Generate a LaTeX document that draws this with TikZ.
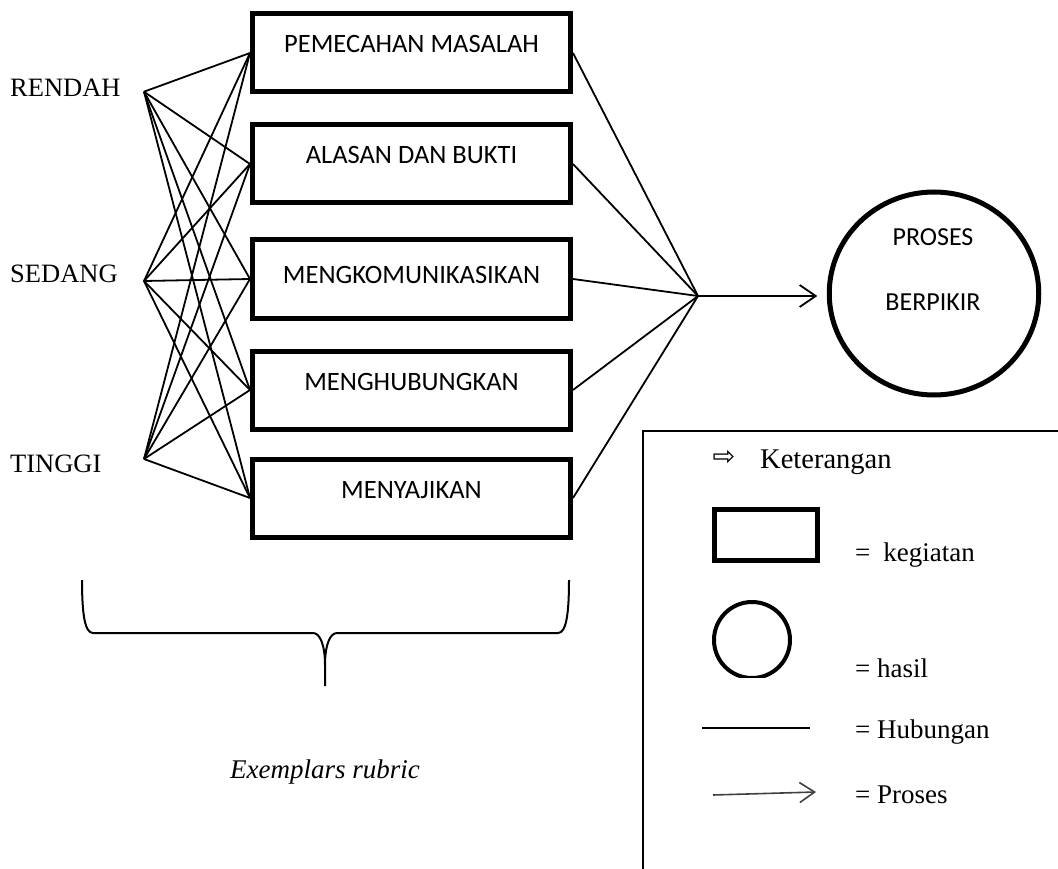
\documentclass[tikz,border=0pt]{standalone}
\usepackage{fontspec}
\setmainfont{Liberation Serif}
\newfontfamily\calib{Carlito}
\newfontfamily\dejavu{DejaVu Sans}
\usetikzlibrary{shapes.geometric,arrows.meta}
\begin{document}
\begin{tikzpicture}[x=1pt,y=-1pt,
  box/.style={draw, line width=5pt, minimum width=318pt, minimum height=78pt, inner sep=0pt},
  boxtext/.style={font=\calib\fontsize{26.5}{30}\selectfont, inner sep=0pt, anchor=base},
  level/.style={font=\fontsize{26.5}{30}\selectfont, anchor=base west, inner sep=0pt},
  link/.style={line width=1.8pt},
  legtext/.style={font=\fontsize{27}{30}\selectfont, anchor=base west, inner sep=0pt}]
\useasboundingbox (0,0) rectangle (1058,869);

% level labels and their junction points
\node[level] (rendah) at (10,97) {RENDAH};
\node[level] (sedang) at (10,283) {SEDANG};
\node[level] (tinggi) at (10,472) {TINGGI};
\coordinate (rL) at (144,91.7);
\coordinate (rS) at (144,281);
\coordinate (rT) at (144,459);

% activity boxes
\node[box] (b1) at (411.5,53) {};
\node[box] (b2) at (411.5,164) {};
\node[box] (b3) at (411.5,279) {};
\node[box] (b4) at (411.5,390) {};
\node[box] (b5) at (411.5,498) {};
\node[boxtext] (t1) at (411.5,53) {PEMECAHAN MASALAH};
\node[boxtext] (t2) at (411.5,163.5) {ALASAN DAN BUKTI};
\node[boxtext] (t3) at (411.5,283.5) {MENGKOMUNIKASIKAN};
\node[boxtext] (t4) at (411.5,390) {MENGHUBUNGKAN};
\node[boxtext] (t5) at (411.5,498.5) {MENYAJIKAN};

% left connectors
\foreach \l in {rL,rS,rT}
  \foreach \b in {b1,b2,b3,b4,b5}
    \draw[link] (\l) -- (\b.west);

% right connectors
\coordinate (conv) at (698,296);
\foreach \b in {b1,b2,b3,b4,b5}
  \draw[link] (\b.east) -- (conv);

% result
\node[ellipse, draw, line width=5pt, minimum width=209.5pt, minimum height=203pt, inner sep=0pt] (circ) at (934,293.5) {};
\node[boxtext, font=\calib\fontsize{26}{30}\selectfont] (c1) at (933,246) {PROSES};
\node[boxtext, font=\calib\fontsize{26}{30}\selectfont] (c2) at (933,310) {BERPIKIR};
\draw[link, -{Straight Barb[length=16pt,width=22pt]}, shorten >=9.5pt] (conv) -- (conv -| circ.west);

% brace
\draw[line width=2pt, line join=round]
  (82,580) .. controls (82,615) and (85,633) .. (93,633) -- (313,633)
  .. controls (320,633) and (325,645) .. (325,665) -- (325,686);
\draw[line width=2pt, line join=round]
  (569,580) .. controls (569,615) and (566,633) .. (558,633) -- (337,633)
  .. controls (330,633) and (325,645) .. (325,665);
\node[font=\itshape\fontsize{27}{30}\selectfont, inner sep=0pt] (ex) at (325,772) {Exemplars rubric};

% legend
\draw[line width=1.8pt] (1058,431) -- (643,431) -- (643,869);
\node[font=\dejavu\fontsize{27}{30}\selectfont, inner sep=0pt] (sym) at (724,458) {⇨};
\node[legtext, font=\fontsize{28.5}{30}\selectfont] (ket) at (760,468) {Keterangan};
\node[draw, line width=5pt, minimum width=103pt, minimum height=51pt, inner sep=0pt] (lrect) at (766,535) {};
\node[legtext] (lkeg) at (855,561) {=\hspace{13pt}kegiatan};
\begin{scope}
  \clip (700,590) rectangle (800,677);
  \node[circle, draw, line width=4pt, minimum size=76pt, inner sep=0pt] (lcirc) at (752,640) {};
\end{scope}
\node[legtext] (lhas) at (855,677) {= hasil};
\coordinate (lh1) at (702,728);
\coordinate (lh2) at (810,728);
\draw[line width=1.6pt] (lh1) -- (lh2);
\node[legtext] (lhub) at (855,738) {= Hubungan};
\coordinate (lp1) at (713,795);
\coordinate (lp2) at (816,792);
\draw[line width=1.6pt, black!75, -{Straight Barb[length=15pt,width=20pt]}] (lp1) -- (lp2);
\node[legtext] (lpro) at (855,803) {= Proses};
\end{tikzpicture}
\end{document}
